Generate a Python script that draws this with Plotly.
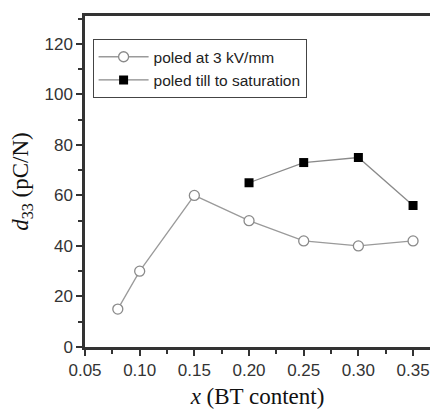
import plotly.graph_objects as go

x_open = [0.08, 0.10, 0.15, 0.20, 0.25, 0.30, 0.35]
d33_open = [15, 30, 60, 50, 42, 40, 42]
x_sat = [0.20, 0.25, 0.30, 0.35]
d33_sat = [65, 73, 75, 56]
name_open = "poled at 3 kV/mm"
name_sat = "poled till to saturation"
x_ticks = [0.05, 0.10, 0.15, 0.20, 0.25, 0.30, 0.35]
x_ticklabels = ["0.05", "0.10", "0.15", "0.20", "0.25", "0.30", "0.35"]
y_ticks = [0, 20, 40, 60, 80, 100, 120]

fig = go.Figure()
fig.add_trace(go.Scatter(
    x=x_open, y=d33_open, mode="lines+markers", name=name_open,
    line=dict(color="#9a9a9a", width=1.3),
    marker=dict(symbol="circle", size=10, color="white",
                line=dict(color="#8a8a8a", width=1.3)),
))
fig.add_trace(go.Scatter(
    x=x_sat, y=d33_sat, mode="lines+markers", name=name_sat,
    line=dict(color="#8a8a8a", width=1.3),
    marker=dict(symbol="square", size=9, color="black",
                line=dict(color="black", width=0)),
))

axis_col = "#333333"
tick_font = dict(family="Liberation Sans, Arial", size=17, color="#333333")
fig.update_layout(
    width=430, height=410,
    margin=dict(l=85, r=0, t=16, b=63),
    plot_bgcolor="white", paper_bgcolor="white",
    showlegend=True,
    legend=dict(
        x=0.022, y=0.93, xanchor="left", yanchor="top",
        bordercolor="#444444", borderwidth=1, bgcolor="white",
        font=dict(family="Liberation Sans, Arial", size=15.5, color="#222222"),
        tracegroupgap=0, itemwidth=50,
    ),
    xaxis=dict(
        range=[0.05, 0.3655], tickvals=x_ticks, ticktext=x_ticklabels,
        showline=True, linecolor=axis_col, linewidth=2.5, mirror=True,
        ticks="outside", ticklen=6, tickwidth=2, tickcolor=axis_col,
        minor=dict(ticks="outside", ticklen=4, tickwidth=2, tickcolor=axis_col, dtick=0.025, tick0=0.05),
        showgrid=False, zeroline=False,
        tickfont=tick_font,
        title=dict(text="<i>x</i> (BT content)", standoff=9,
                   font=dict(family="Liberation Serif, Times New Roman", size=23, color="#111111")),
    ),
    yaxis=dict(
        range=[0, 131], tickvals=y_ticks,
        showline=True, linecolor=axis_col, linewidth=2.5,
        ticks="outside", ticklen=6, tickwidth=2, tickcolor=axis_col,
        minor=dict(ticks="outside", ticklen=4, tickwidth=2, tickcolor=axis_col, dtick=10, tick0=0),
        showgrid=False, zeroline=False,
        tickfont=tick_font,
        title=dict(text="<i>d</i><sub>33</sub> (pC/N)", standoff=10,
                   font=dict(family="Liberation Serif, Times New Roman", size=23, color="#111111")),
    ),
)

fig.write_html(
    "out.html",
    config={"displayModeBar": False},
    post_script="document.body.style.margin='0';document.body.style.overflow='hidden';",
)
